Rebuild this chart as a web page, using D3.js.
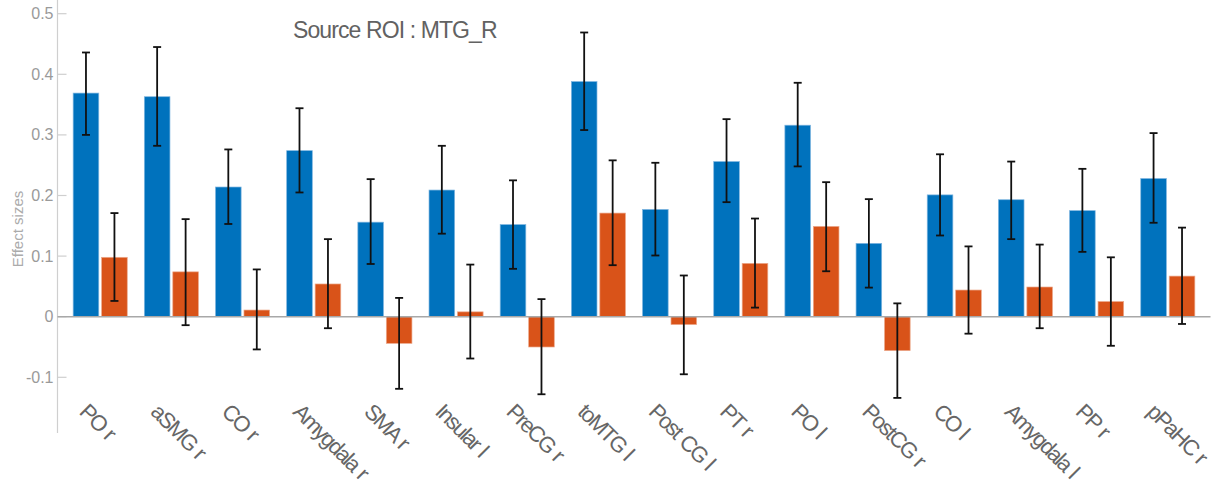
<!DOCTYPE html>
<html>
<head>
<meta charset="utf-8">
<script src="https://cdn.jsdelivr.net/npm/d3@7"></script>
<style>
  html, body { margin: 0; padding: 0; background: #fff; }
  svg { display: block; }
</style>
</head>
<body>
<svg id="chart" width="1211" height="500"></svg>
<script>
const categories = ["PO r","aSMG r","CO r","Amygdala r","SMA r","Insular l","PreCG r","toMTG l","Post CG l","PT r","PO l","PostCG r","CO l","Amygdala l","PP r","pPaHC r"];
const blueValues = [0.369, 0.363, 0.214, 0.274, 0.156, 0.209, 0.152, 0.388, 0.177, 0.256, 0.316, 0.121, 0.201, 0.193, 0.175, 0.228];
const blueLow    = [0.300, 0.282, 0.153, 0.205, 0.087, 0.137, 0.079, 0.308, 0.101, 0.189, 0.248, 0.048, 0.134, 0.128, 0.107, 0.155];
const blueHigh   = [0.436, 0.445, 0.276, 0.344, 0.227, 0.282, 0.225, 0.469, 0.254, 0.326, 0.386, 0.194, 0.268, 0.256, 0.244, 0.303];
const orangeValues = [0.098, 0.074, 0.011, 0.054, -0.044, 0.008, -0.050, 0.171, -0.013, 0.088, 0.149, -0.056, 0.044, 0.049, 0.025, 0.067];
const orangeLow    = [0.026, -0.014, -0.054, -0.019, -0.119, -0.069, -0.128, 0.085, -0.095, 0.015, 0.075, -0.134, -0.028, -0.019, -0.048, -0.012];
const orangeHigh   = [0.171, 0.161, 0.078, 0.128, 0.031, 0.086, 0.029, 0.258, 0.068, 0.162, 0.222, 0.022, 0.116, 0.119, 0.098, 0.147];
const yTicks = [-0.1, 0, 0.1, 0.2, 0.3, 0.4, 0.5];
const yTickLabels = ["-0.1", "0", "0.1", "0.2", "0.3", "0.4", "0.5"];
const titleText = "Source ROI : MTG_R";
const yLabelText = "Effect sizes";

const svg = d3.select("#chart");
const x = d3.scaleLinear().domain([0.4, 16.6]).range([57.5, 1210.5]);
const y = d3.scaleLinear().domain([0, 0.5]).range([316.7, 13.7]);

const blue = "#0072BD", orange = "#D95319";
const off = 0.2, bw = 0.36;

const series = [
  {vals: blueValues, lo: blueLow, hi: blueHigh, color: blue, edge: "#7fb6e0", dx: -off},
  {vals: orangeValues, lo: orangeLow, hi: orangeHigh, color: orange, edge: "#eca98c", dx: off}
];

// y axis line
svg.append("line").attr("x1", x(0.4)).attr("x2", x(0.4))
  .attr("y1", y(0.53)).attr("y2", y(-0.192))
  .attr("stroke", "#cfcfcf").attr("stroke-width", 1.2);

// y ticks
const gy = svg.append("g");
yTicks.forEach((t, i) => {
  gy.append("line").attr("x1", x(0.4)).attr("x2", x(0.4) + 9)
    .attr("y1", y(t)).attr("y2", y(t)).attr("stroke", "#cfcfcf").attr("stroke-width", 1.2);
  gy.append("text").attr("x", x(0.4) - 4).attr("y", y(t))
    .attr("text-anchor", "end").attr("dominant-baseline", "central")
    .attr("font-family", "Liberation Sans, Arial, sans-serif").attr("font-size", 16)
    .attr("fill", "#9a9a9a").text(yTickLabels[i]);
});

// bars
series.forEach(s => {
  const g = svg.append("g");
  s.vals.forEach((v, i) => {
    const k = i + 1;
    const x0 = x(k + s.dx - bw / 2), x1 = x(k + s.dx + bw / 2);
    g.append("rect").attr("x", x0).attr("width", x1 - x0)
      .attr("y", Math.min(y(v), y(0))).attr("height", Math.abs(y(v) - y(0)))
      .attr("fill", s.color).attr("stroke", s.edge).attr("stroke-width", 0.7);
  });
});

// zero line
svg.append("line").attr("x1", x(0.4)).attr("x2", x(16.6))
  .attr("y1", y(0)).attr("y2", y(0)).attr("stroke", "#a8a8a8").attr("stroke-width", 1.5);

// error bars
series.forEach(s => {
  const g = svg.append("g").attr("stroke", "#111").attr("stroke-width", 1.8);
  s.vals.forEach((v, i) => {
    const cx = x(i + 1 + s.dx);
    g.append("line").attr("x1", cx).attr("x2", cx).attr("y1", y(s.lo[i])).attr("y2", y(s.hi[i]));
    g.append("line").attr("x1", cx - 4).attr("x2", cx + 4).attr("y1", y(s.lo[i])).attr("y2", y(s.lo[i]));
    g.append("line").attr("x1", cx - 4).attr("x2", cx + 4).attr("y1", y(s.hi[i])).attr("y2", y(s.hi[i]));
  });
});

// x labels
categories.forEach((c, i) => {
  const ax = x(i + 1) - 22, ay = 413;
  svg.append("text").attr("x", ax).attr("y", ay)
    .attr("transform", `rotate(45, ${ax}, ${ay})`)
    .attr("text-anchor", "start")
    .attr("font-family", "Liberation Sans, Arial, sans-serif").attr("font-size", 22)
    .attr("letter-spacing", -1.7).attr("word-spacing", 1.5)
    .attr("fill", "#666").text(c);
});

// title
svg.append("text").attr("x", 293).attr("y", 38)
  .attr("font-family", "Liberation Sans, Arial, sans-serif").attr("font-size", 23)
  .attr("letter-spacing", -0.9).attr("fill", "#626262").text(titleText);

// y label
svg.append("text").attr("transform", `translate(23, 229) rotate(-90)`)
  .attr("text-anchor", "middle")
  .attr("font-family", "Liberation Sans, Arial, sans-serif").attr("font-size", 15)
  .attr("fill", "#ababab").text(yLabelText);
</script>
</body>
</html>
